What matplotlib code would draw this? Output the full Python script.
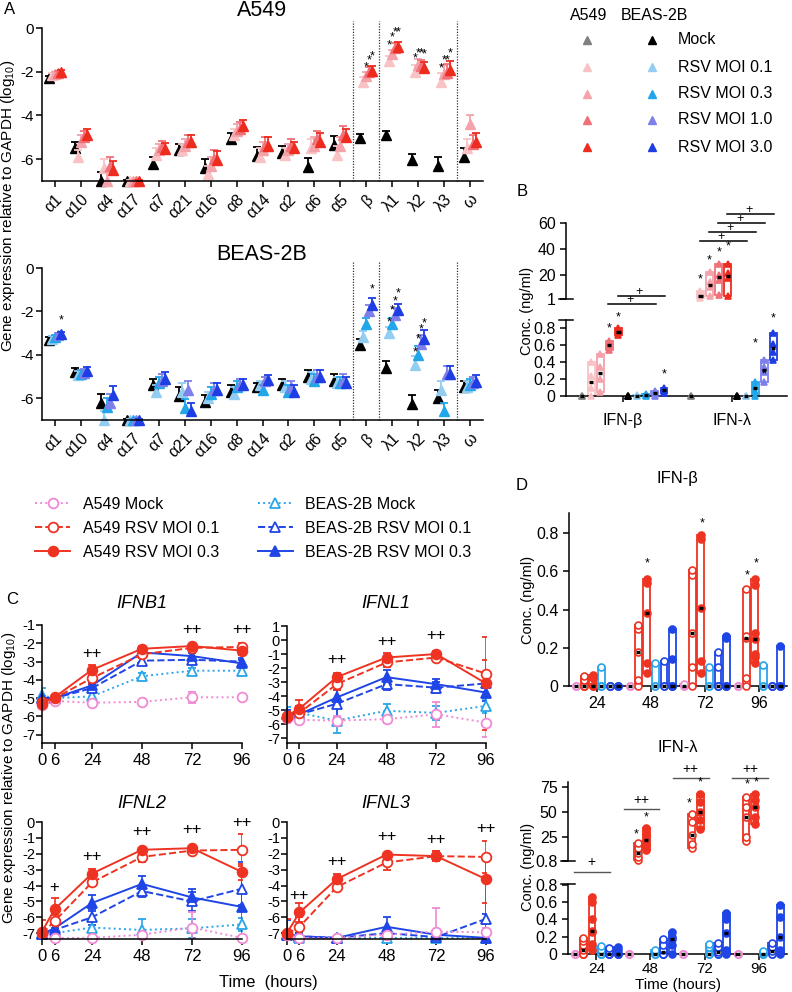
import numpy as np
import matplotlib
matplotlib.use('Agg')
from matplotlib import pyplot as plt
from matplotlib.lines import Line2D

plt.rcParams['font.family'] = ['Liberation Sans', 'DejaVu Sans']
plt.rcParams['mathtext.fontset'] = 'custom'
plt.rcParams['mathtext.rm'] = 'Liberation Sans'
plt.rcParams['axes.unicode_minus'] = False
plt.rcParams['axes.linewidth'] = 1.1

W, H = 792.0, 992.0

# ---------------- panel A : subtype expression (log10 vs GAPDH) ----------------
genes = ['α1', 'α10', 'α4', 'α17', 'α7', 'α21', 'α16', 'α8', 'α14', 'α2', 'α6', 'α5',
         'β', 'λ1', 'λ2', 'λ3', 'ω']
a549_mock = [-2.3, -5.5, -7.0, -7.0, -6.2, -5.6, -6.4, -5.1, -5.85, -5.7, -6.35, -5.35, -5.05, -4.9, -6.05, -6.3, -5.9]
a549_01 = [-2.15, -5.9, -6.4, -7.0, -5.8, -5.6, -6.7, -4.9, -5.9, -5.8, -5.5, -5.8, -2.45, -1.5, -2.0, -2.45, -5.5]
a549_03 = [-2.1, -5.2, -7.0, -7.0, -5.6, -5.4, -6.3, -4.7, -5.6, -5.6, -5.4, -5.4, -2.2, -1.2, -1.7, -2.1, -4.4]
a549_10 = [-2.05, -5.0, -6.3, -7.0, -5.45, -5.2, -6.0, -4.6, -5.4, -5.4, -5.1, -4.9, -2.0, -0.9, -1.75, -2.05, -5.3]
a549_30 = [-2.0, -4.9, -6.5, -7.0, -5.55, -5.2, -6.05, -4.5, -5.4, -5.5, -5.2, -5.0, -1.95, -0.85, -1.85, -1.9, -5.2]
a549_err = [0.1, 0.3, 0.4, 0.05, 0.3, 0.3, 0.4, 0.3, 0.4, 0.3, 0.4, 0.4, 0.2, 0.2, 0.3, 0.4, 0.4]

beas_mock = [-3.3, -4.8, -6.2, -7.0, -5.4, -5.9, -6.15, -5.7, -5.5, -5.4, -5.0, -5.2, -3.55, -4.6, -6.25, -6.0, -5.5]
beas_01 = [-3.25, -4.95, -7.0, -7.0, -5.7, -5.7, -6.0, -5.8, -5.4, -5.5, -5.1, -5.3, -3.2, -3.0, -4.45, -5.6, -5.5]
beas_03 = [-3.2, -4.9, -6.4, -7.0, -5.3, -6.45, -5.8, -5.5, -5.6, -5.7, -5.2, -5.3, -2.6, -2.6, -4.0, -6.6, -5.4]
beas_10 = [-3.1, -4.85, -6.2, -7.0, -5.2, -5.6, -5.6, -5.4, -5.2, -5.5, -5.0, -5.2, -2.0, -2.15, -3.5, -4.9, -5.3]
beas_30 = [-3.05, -4.75, -5.85, -7.0, -5.1, -6.6, -5.6, -5.4, -5.15, -5.7, -5.0, -5.3, -1.7, -1.95, -3.25, -4.9, -5.25]
beas_err = [0.1, 0.2, 0.4, 0.05, 0.3, 0.4, 0.3, 0.3, 0.2, 0.3, 0.3, 0.3, 0.3, 0.3, 0.4, 0.4, 0.3]

# (gene index, series index, y)
a549_stars = [(12, 2, -1.8), (12, 3, -1.5), (12, 4, -1.3),
              (13, 1, -0.8), (13, 2, -0.45), (13, 3, -0.2), (13, 4, -0.2),
              (14, 1, -1.4), (14, 2, -1.15), (14, 3, -1.15), (14, 4, -1.2),
              (15, 1, -1.85), (15, 2, -1.5), (15, 3, -1.5), (15, 4, -1.15)]
beas_stars = [(0, 4, -2.4), (12, 4, -1.0),
              (13, 1, -2.5), (13, 2, -1.95), (13, 3, -1.55), (13, 4, -1.15),
              (14, 1, -3.9), (14, 2, -3.3), (14, 3, -2.85), (14, 4, -2.55)]

dose_labels = ['Mock', 'RSV MOI 0.1', 'RSV MOI 0.3', 'RSV MOI 1.0', 'RSV MOI 3.0']
a549_cols = ['black', '#f9c3c6', '#f5a3aa', '#f07178', '#ee2b1f']
beas_cols = ['black', '#93cdf2', '#22a6ea', '#7d80ea', '#1e3ee4']
a_offsets = [-0.23, -0.115, 0.0, 0.115, 0.23]

# ---------------- panel B : secreted protein ----------------
b_beta_a549 = [[0, 0, 0], [0, 0.1, 0.24, 0.4], [0.05, 0.2, 0.34, 0.5], [0.55, 0.59, 0.61, 0.65], [0.72, 0.75, 0.77, 0.8]]
b_beta_beas = [[0, 0, 0], [0, 0, 0.01], [0, 0.01, 0.02], [0, 0.02, 0.04, 0.06], [0.04, 0.06, 0.08, 0.1]]
b_lam_a549 = [[0, 0, 0], [1.5, 3, 4, 7], [3, 10, 14, 22], [4, 16, 20, 28], [3, 17, 21, 28]]
b_lam_beas = [[0, 0, 0], [0, 0, 0], [0, 0.06, 0.12, 0.17], [0.17, 0.28, 0.34, 0.43], [0.43, 0.52, 0.62, 0.75]]
b_cols = ['#8c8c8c'] + a549_cols[1:] + beas_cols
b_stars_lo = [(3, 0.8), (4, 0.93), (9, 0.26), (19, 0.62), (20, 0.25), (21, 0.92)]
b_stars_hi = [(13, 16), (14, 31), (15, 37.5), (16, 42)]
b_lines_hi = [(3, 8, -3), (4, 9, 3.4), (13, 18, 46), (14, 19, 53), (15, 20, 60), (16, 21, 67)]

# ---------------- panel C : time course ----------------
c_times = [0, 6, 24, 48, 72, 96]
c_labels = ['A549 Mock', 'A549 RSV MOI 0.1', 'A549 RSV MOI 0.3',
            'BEAS-2B Mock', 'BEAS-2B RSV MOI 0.1', 'BEAS-2B RSV MOI 0.3']
ifnb1_vals = [[-5.35, -5.15, -5.25, -5.2, -4.95, -4.95],
              [-5.2, -5.0, -3.9, -2.6, -2.25, -2.2],
              [-5.3, -4.95, -3.45, -2.3, -2.15, -2.4],
              [-4.85, -5.0, -4.9, -3.8, -3.5, -3.5],
              [-5.0, -5.0, -4.45, -2.95, -2.9, -3.0],
              [-5.0, -5.0, -4.3, -2.5, -2.7, -3.1]]
ifnb1_err = [[0.2, 0.15, 0.2, 0.1, 0.3, 0.1], [0.1, 0.1, 0.3, 0.2, 0.15, 0.2], [0.1, 0.1, 0.25, 0.15, 0.1, 0.25],
             [0.4, 0.1, 0.2, 0.2, 0.15, 0.3], [0.1, 0.1, 0.2, 0.15, 0.15, 0.2], [0.1, 0.1, 0.15, 0.1, 0.15, 0.2]]
ifnl1_vals = [[-5.6, -5.7, -5.75, -5.65, -5.3, -5.9],
              [-5.5, -5.2, -3.15, -1.6, -1.25, -2.4],
              [-5.4, -4.9, -2.65, -1.25, -1.0, -3.1],
              [-5.3, -5.2, -5.75, -5.05, -5.2, -4.7],
              [-5.3, -5.3, -4.55, -3.15, -3.4, -3.1],
              [-5.3, -5.3, -4.1, -2.65, -3.15, -3.75]]
ifnl1_err = [[0.3, 0.3, 0.3, 0.3, 0.9, 1.0], [0.3, 0.5, 0.4, 0.3, 0.2, 1.0], [0.3, 0.6, 0.3, 0.3, 0.2, 3.3],
             [0.5, 0.3, 0.9, 0.5, 0.5, 0.5], [0.3, 0.3, 1.0, 0.4, 0.4, 0.6], [0.3, 0.6, 0.5, 0.5, 0.4, 0.6]]
ifnl2_vals = [[-7.0, -7.3, -7.3, -7.1, -6.65, -7.3],
              [-7.0, -6.25, -3.8, -2.2, -1.8, -1.75],
              [-6.9, -5.5, -3.25, -1.75, -1.65, -3.15],
              [-7.0, -7.0, -6.65, -6.8, -6.7, -6.45],
              [-7.05, -6.8, -6.0, -4.35, -5.0, -4.2],
              [-7.05, -6.7, -5.1, -3.9, -4.75, -5.35]]
ifnl2_err = [[0.2, 0.1, 0.1, 0.2, 1.0, 0.1], [0.3, 0.4, 0.2, 0.3, 0.1, 1.0], [0.7, 0.7, 0.3, 0.1, 0.1, 0.5],
             [0.3, 0.3, 0.5, 0.7, 0.6, 0.4], [0.2, 0.3, 0.5, 0.4, 0.6, 1.0], [0.2, 0.3, 0.5, 0.5, 0.5, 2.8]]
ifnl3_vals = [[-7.1, -7.3, -7.3, -7.1, -6.9, -6.95],
              [-7.05, -6.6, -4.1, -2.55, -2.15, -2.2],
              [-7.0, -5.7, -3.6, -2.05, -2.15, -3.6],
              [-7.1, -7.3, -7.3, -7.3, -7.3, -7.3],
              [-7.1, -7.2, -7.3, -7.0, -7.25, -6.1],
              [-7.05, -7.2, -7.3, -6.6, -7.1, -7.3]]
ifnl3_err = [[0.1, 0.1, 0.1, 0.1, 1.5, 0.3], [0.2, 0.6, 0.2, 0.5, 0.3, 1.0], [0.9, 0.6, 0.3, 0.1, 0.3, 1.5],
             [0.1, 0.1, 0.1, 0.1, 0.1, 0.1], [0.2, 0.2, 0.1, 0.2, 0.2, 0.3], [0.9, 0.2, 0.1, 0.6, 0.2, 3.6]]
ifnb1_sig = [(24, -2.55, '++'), (72, -1.25, '++'), (96, -1.25, '++')]
ifnl1_sig = [(24, -1.4, '++'), (48, -0.1, '++'), (72, 0.35, '++')]
ifnl2_sig = [(6, -4.15, '+'), (24, -2.2, '++'), (48, -0.6, '++'), (72, -0.5, '++'), (96, 0.0, '++')]
ifnl3_sig = [(6, -4.6, '++'), (24, -2.5, '++'), (48, -0.9, '++'), (72, -1.1, '++'), (96, -0.4, '++')]

pink, red, lblue, blue = '#f08ad4', '#ee3322', '#2aa5ea', '#1f45e6'
c_styles = [(pink, ':', 'o', False), (red, '--', 'o', False), (red, '-', 'o', True),
            (lblue, ':', '^', False), (blue, '--', '^', False), (blue, '-', '^', True)]

# ---------------- panel D : protein time course ----------------
d_times = [24, 48, 72, 96]
d_beta = [
    [[0, 0, 0], [0, 0, 0, 0.03, 0.05], [0, 0, 0, 0.04, 0.06], [0, 0, 0, 0.1], [0, 0, 0], [0, 0, 0]],
    [[0, 0, 0], [0, 0.03, 0.18, 0.3, 0.32], [0.07, 0.12, 0.38, 0.54, 0.56], [0, 0, 0.12], [0, 0, 0.13], [0, 0, 0, 0.14, 0.3]],
    [[0, 0, 0.01], [0, 0.1, 0.28, 0.58, 0.61], [0.07, 0.13, 0.41, 0.77, 0.79], [0, 0, 0.1], [0, 0, 0, 0.1, 0.18], [0, 0, 0, 0.25, 0.26]],
    [[0, 0, 0], [0, 0.04, 0.25, 0.26, 0.51], [0.12, 0.15, 0.17, 0.245, 0.28, 0.53, 0.56], [0, 0, 0.11], [0, 0, 0], [0, 0, 0, 0.21]],
]
d_lam = [
    [[0, 0, 0], [0, 0, 0, 0.05, 0.1, 0.15, 0.19], [0.05, 0.12, 0.25, 0.27, 0.4, 0.6, 0.66], [0, 0, 0, 0.05, 0.09], [0, 0, 0, 0.04, 0.07], [0, 0, 0, 0.05, 0.08]],
    [[0, 0, 0], [2, 5, 9, 14, 19], [12, 17, 22, 28, 34], [0, 0, 0, 0.03, 0.05], [0, 0, 0, 0.05, 0.1, 0.17], [0, 0.1, 0.17, 0.2, 0.25]],
    [[0, 0, 0], [14, 18, 27, 40, 48], [33, 42, 50, 60, 68], [0, 0, 0, 0.08, 0.12], [0, 0, 0.02, 0.08, 0.13], [0, 0.05, 0.24, 0.4, 0.48]],
    [[0, 0, 0], [21, 25, 45, 55, 65], [38, 45, 55, 62, 68], [0, 0, 0, 0.02, 0.04], [0, 0, 0.03, 0.08, 0.13], [0, 0.05, 0.2, 0.43, 0.57]],
]
d_lam_top = [(1, 1), (1, 2), (2, 1), (2, 2), (3, 1), (3, 2)]
d_cols = [pink, red, red, lblue, blue, blue]
d_filled = [False, False, True, False, False, True]
d_offsets = np.array([-2.5, -1.5, -0.5, 0.5, 1.5, 2.5]) * 3.8
d_beta_stars = [(46.2, 0.64), (70.8, 0.85), (90.7, 0.58), (94.7, 0.64)]
d_lam_stars = [(41.8, 27), (46.2, 44), (65.3, 59), (70.2, 80), (90.7, 78), (94.7, 80)]
d_lam_lines = [(36.4, 51.6, 53, '++'), (57.8, 73.8, 84, '++'), (84.0, 100.0, 84, '++')]


def px_axes(fig, left, top, right, bottom):
    return fig.add_axes([left / W, 1 - bottom / H, (right - left) / W, (bottom - top) / H])


def clean(ax, size=11):
    for s in ['top', 'right']:
        ax.spines[s].set_visible(False)
    ax.set_facecolor('none')
    ax.tick_params(direction='out', length=4, width=1.1, labelsize=size)


def only_y(ax):
    ax.spines['bottom'].set_visible(False)
    ax.set_xticks([])


def break_mark(ax, yfrac):
    ax.plot([-0.03, 0.03], [yfrac, yfrac], transform=ax.transAxes, color='black', lw=1.1, clip_on=False)


def panel_a(ax, series, cols, err, stars):
    base = np.arange(len(genes))
    for j, (vals, col) in enumerate(zip(series, cols)):
        x = base + a_offsets[j]
        y = np.array(vals)
        top = y + np.array(err)
        ax.vlines(x, y, top, color=col, lw=1.3, clip_on=False, zorder=2 + j * 0.1)
        ax.plot(x, top, ls='none', marker='_', ms=6, mew=1.3, color=col, clip_on=False, zorder=2 + j * 0.1)
        ax.plot(x, y, ls='none', marker='^', ms=6.5, color=col, clip_on=False, zorder=2.05 + j * 0.1)
    for xv in [11.5, 12.5, 15.5]:
        ax.plot([xv, xv], [-7, 0.3], ls=(0, (1, 1.2)), color='#333333', lw=0.9, clip_on=False)
    for g, s, yv in stars:
        ax.text(g + a_offsets[s], yv, '*', ha='center', va='center', fontsize=9)
    ax.set_xlim(-0.5, 16.5)
    ax.set_ylim(-7, 0)
    ax.set_yticks([0, -2, -4, -6])
    ax.tick_params(axis='y', pad=2)
    ax.set_xticks(base)
    ax.set_xticklabels(genes, rotation=45, ha='right', rotation_mode='anchor', fontsize=11.5)


def box(ax, x, pts, col, marker, filled, width, ms):
    pts = np.array(pts, float)
    lo, hi, med = pts.min(), pts.max(), np.median(pts)
    if hi > lo:
        ax.bar(x, hi - lo, bottom=lo, width=width, facecolor='white', edgecolor=col, lw=1.3, zorder=2, clip_on=False)
    ax.plot(np.full(len(pts), x), pts, ls='none', marker=marker, ms=ms, color=col,
            mfc=col if filled else 'white', mew=1.2, zorder=3, clip_on=False)
    ax.plot([x - width * 0.3, x + width * 0.3], [med, med], color='black', lw=2.4, zorder=4,
            solid_capstyle='butt', clip_on=False)


def panel_c(ax, vals, errs, ylim, yticks, sig):
    for k in [3, 4, 5, 0, 1, 2]:
        col, ls, mk, filled = c_styles[k]
        eb = ax.errorbar(c_times, vals[k], yerr=errs[k], color=col, ls=ls, lw=1.4, marker=mk, ms=7,
                         mfc=col if filled else 'white', mec=col, mew=1.3, capsize=3,
                         elinewidth=1.2, capthick=1.2)
        eb.lines[0].set_clip_on(False)
    for t, yv, s in sig:
        ax.text(t, yv, s, ha='center', va='center', fontsize=12, clip_on=False)
    ax.set_xlim(0, 96)
    ax.set_ylim(*ylim)
    ax.set_yticks(yticks)
    ax.set_xticks(c_times)
    ax.tick_params(axis='x', labelsize=12)
    ax.tick_params(axis='y', labelsize=10.5, pad=1)


fig = plt.figure(figsize=(W / 100, H / 100), dpi=100)

# A
axA1 = px_axes(fig, 42, 28, 483, 181)
clean(axA1)
panel_a(axA1, [a549_mock, a549_01, a549_03, a549_10, a549_30], a549_cols, a549_err, a549_stars)
axA2 = px_axes(fig, 42, 268, 483, 420)
clean(axA2)
panel_a(axA2, [beas_mock, beas_01, beas_03, beas_10, beas_30], beas_cols, beas_err, beas_stars)

# B
b_xlim = (-1.76, 22.5)
axBh = px_axes(fig, 566, 223, 787, 299)
clean(axBh, 11.5)
only_y(axBh)
axBh.set_ylim(1, 60)
axBh.set_yticks([1, 20, 40, 60])
axBh.set_xlim(*b_xlim)
break_mark(axBh, 0)
axBl = px_axes(fig, 566, 320, 787, 396)
clean(axBl, 11.5)
axBl.set_ylim(0, 0.9)
axBl.set_yticks([0, 0.2, 0.4, 0.6, 0.8])
axBl.set_yticklabels(['0', '0.2', '0.4', '0.6', '0.8'])
axBl.set_xlim(*b_xlim)
axBl.set_xticks([4.5, 16.5])
axBl.set_xticklabels(['IFN-β', 'IFN-λ'])
axBl.tick_params(axis='x', pad=8)
break_mark(axBl, 1)
for i in range(5):
    box(axBl, i, b_beta_a549[i], b_cols[i], '^', True, 0.75, 5)
    box(axBl, 5 + i, b_beta_beas[i], b_cols[5 + i], '^', True, 0.75, 5)
    box(axBh if i > 0 else axBl, 12 + i, b_lam_a549[i], b_cols[i], '^', True, 0.75, 5)
    box(axBl, 17 + i, b_lam_beas[i], b_cols[5 + i], '^', True, 0.75, 5)
for x, y in b_stars_lo:
    axBl.text(x, y, '*', ha='center', va='center', fontsize=9, clip_on=False)
for x, y in b_stars_hi:
    axBh.text(x, y, '*', ha='center', va='center', fontsize=9, clip_on=False)
for x0, x1, y in b_lines_hi:
    axBh.plot([x0 - 0.1, x1 + 0.1], [y, y], color='black', lw=1.1, clip_on=False)
    axBh.text((x0 + x1) / 2 - 0.2, y + 3.2, '+', ha='center', va='center', fontsize=9, clip_on=False)

# C
axC1 = px_axes(fig, 42, 625, 242, 743)
clean(axC1)
panel_c(axC1, ifnb1_vals, ifnb1_err, (-7.45, -1), [-1, -2, -3, -4, -5, -6, -7], ifnb1_sig)
axC2 = px_axes(fig, 287, 626, 486, 743)
clean(axC2)
panel_c(axC2, ifnl1_vals, ifnl1_err, (-7.35, 1), [1, 0, -1, -2, -3, -4, -5, -6, -7], ifnl1_sig)
axC3 = px_axes(fig, 42, 822, 242, 939)
clean(axC3)
panel_c(axC3, ifnl2_vals, ifnl2_err, (-7.37, 0), [0, -1, -2, -3, -4, -5, -6, -7], ifnl2_sig)
axC4 = px_axes(fig, 287, 822, 486, 939)
clean(axC4)
panel_c(axC4, ifnl3_vals, ifnl3_err, (-7.37, 0), [0, -1, -2, -3, -4, -5, -6, -7], ifnl3_sig)

handles = [Line2D([], [], color=c, ls=ls, lw=1.4, marker=m, ms=7, mfc=c if f else 'white', mew=1.3)
           for c, ls, m, f in c_styles]
fig.legend(handles, c_labels, ncol=2, loc='upper left', bbox_to_anchor=(35 / W, 1 - 497 / H),
           frameon=False, fontsize=11.5, handlelength=2.2, handletextpad=0.8, columnspacing=2.4,
           labelspacing=0.55, borderaxespad=0, borderpad=0)

# D
d_xlim = (11.5, 108.4)
axD1 = px_axes(fig, 569, 513, 787, 686)
clean(axD1, 11.5)
axD1.set_ylim(0, 0.906)
axD1.set_yticks([0, 0.2, 0.4, 0.6, 0.8])
axD1.set_yticklabels(['0', '0.2', '0.4', '0.6', '0.8'])
axD1.set_xlim(*d_xlim)
axD1.set_xticks(d_times)
for g, t in enumerate(d_times):
    for k in range(6):
        box(axD1, t + d_offsets[k], d_beta[g][k], d_cols[k], 'o', d_filled[k], 3.0, 5)
for x, y in d_beta_stars:
    axD1.text(x, y, '*', ha='center', va='center', fontsize=9)

axD2h = px_axes(fig, 568, 782, 787, 861)
clean(axD2h, 11.5)
only_y(axD2h)
axD2h.set_ylim(0.8, 80)
axD2h.set_yticks([0.8, 25, 50, 75])
axD2h.set_yticklabels(['0.8', '25', '50', '75'])
axD2h.set_xlim(*d_xlim)
break_mark(axD2h, 0)
axD2l = px_axes(fig, 568, 884, 787, 954)
clean(axD2l, 11.5)
axD2l.set_ylim(0, 0.81)
axD2l.set_yticks([0, 0.2, 0.4, 0.6, 0.8])
axD2l.set_yticklabels(['0', '0.2', '0.4', '0.6', '0.8'])
axD2l.set_xlim(*d_xlim)
axD2l.set_xticks(d_times)
axD2l.tick_params(axis='x', pad=1.5, labelsize=11)
break_mark(axD2l, 1)
for g, t in enumerate(d_times):
    for k in range(6):
        ax = axD2h if (g, k) in d_lam_top else axD2l
        box(ax, t + d_offsets[k], d_lam[g][k], d_cols[k], 'o', d_filled[k], 3.0, 5)
for x, y in d_lam_stars:
    axD2h.text(x, y, '*', ha='center', va='center', fontsize=9, clip_on=False)
for x0, x1, y, s in d_lam_lines:
    axD2h.plot([x0, x1], [y, y], color='#555555', lw=1.0, clip_on=False)
    axD2h.text((x0 + x1) / 2, y + 9, s, ha='center', va='center', fontsize=10, clip_on=False)
axD2l.plot([14.2, 30.2], [0.95, 0.95], color='#555555', lw=1.0, clip_on=False)
axD2l.text(22.0, 1.07, '+', ha='center', va='center', fontsize=10, clip_on=False)

# overlay: titles, labels, legend of A
ov = fig.add_axes([0, 0, 1, 1], zorder=10)
ov.set_xlim(0, W)
ov.set_ylim(H, 0)
ov.axis('off')
ov.text(10, 9, 'A', fontsize=12, ha='center', va='center')
ov.text(522, 192, 'B', fontsize=12, ha='center', va='center')
ov.text(12, 600, 'C', fontsize=12, ha='center', va='center')
ov.text(522, 485, 'D', fontsize=12, ha='center', va='center')
ov.text(262, 11, 'A549', fontsize=15.5, ha='center', va='center')
ov.text(262, 255, 'BEAS-2B', fontsize=15.5, ha='center', va='center')
ylab = 'Gene expression relative to GAPDH (log$_{10}$)'
ov.text(8, 206, ylab, rotation=90, fontsize=11, ha='center', va='center')
ov.text(9, 778, ylab, rotation=90, fontsize=11, ha='center', va='center')
ov.text(527, 311, 'Conc. (ng/ml)', rotation=90, fontsize=10.5, ha='center', va='center')
ov.text(528, 600, 'Conc. (ng/ml)', rotation=90, fontsize=10.5, ha='center', va='center')
ov.text(528, 867, 'Conc. (ng/ml)', rotation=90, fontsize=10.5, ha='center', va='center')
ov.text(142, 603, 'IFNB1', fontsize=13, style='italic', ha='center', va='center')
ov.text(386, 603, 'IFNL1', fontsize=13, style='italic', ha='center', va='center')
ov.text(142, 803, 'IFNL2', fontsize=13, style='italic', ha='center', va='center')
ov.text(386, 803, 'IFNL3', fontsize=13, style='italic', ha='center', va='center')
ov.text(677, 478, 'IFN-β', fontsize=12, ha='center', va='center')
ov.text(678, 748, 'IFN-λ', fontsize=12, ha='center', va='center')
ov.text(268, 982, 'Time  (hours)', fontsize=12, ha='center', va='center')
ov.text(678, 985, 'Time (hours)', fontsize=11, ha='center', va='center')

ov.text(589, 16, 'A549', fontsize=11.5, ha='center', va='center')
ov.text(654, 16, 'BEAS-2B', fontsize=11.5, ha='center', va='center')
leg_rows = [40, 67, 94, 120, 147]
for i, lab in enumerate(dose_labels):
    ov.plot([587], [leg_rows[i]], marker='^', ms=6, color='#7f7f7f' if i == 0 else a549_cols[i], ls='none')
    ov.plot([652], [leg_rows[i]], marker='^', ms=6, color=beas_cols[i], ls='none')
    ov.text(678, leg_rows[i], lab, fontsize=11.5, ha='left', va='center')

fig.savefig('out.png', dpi=100)
